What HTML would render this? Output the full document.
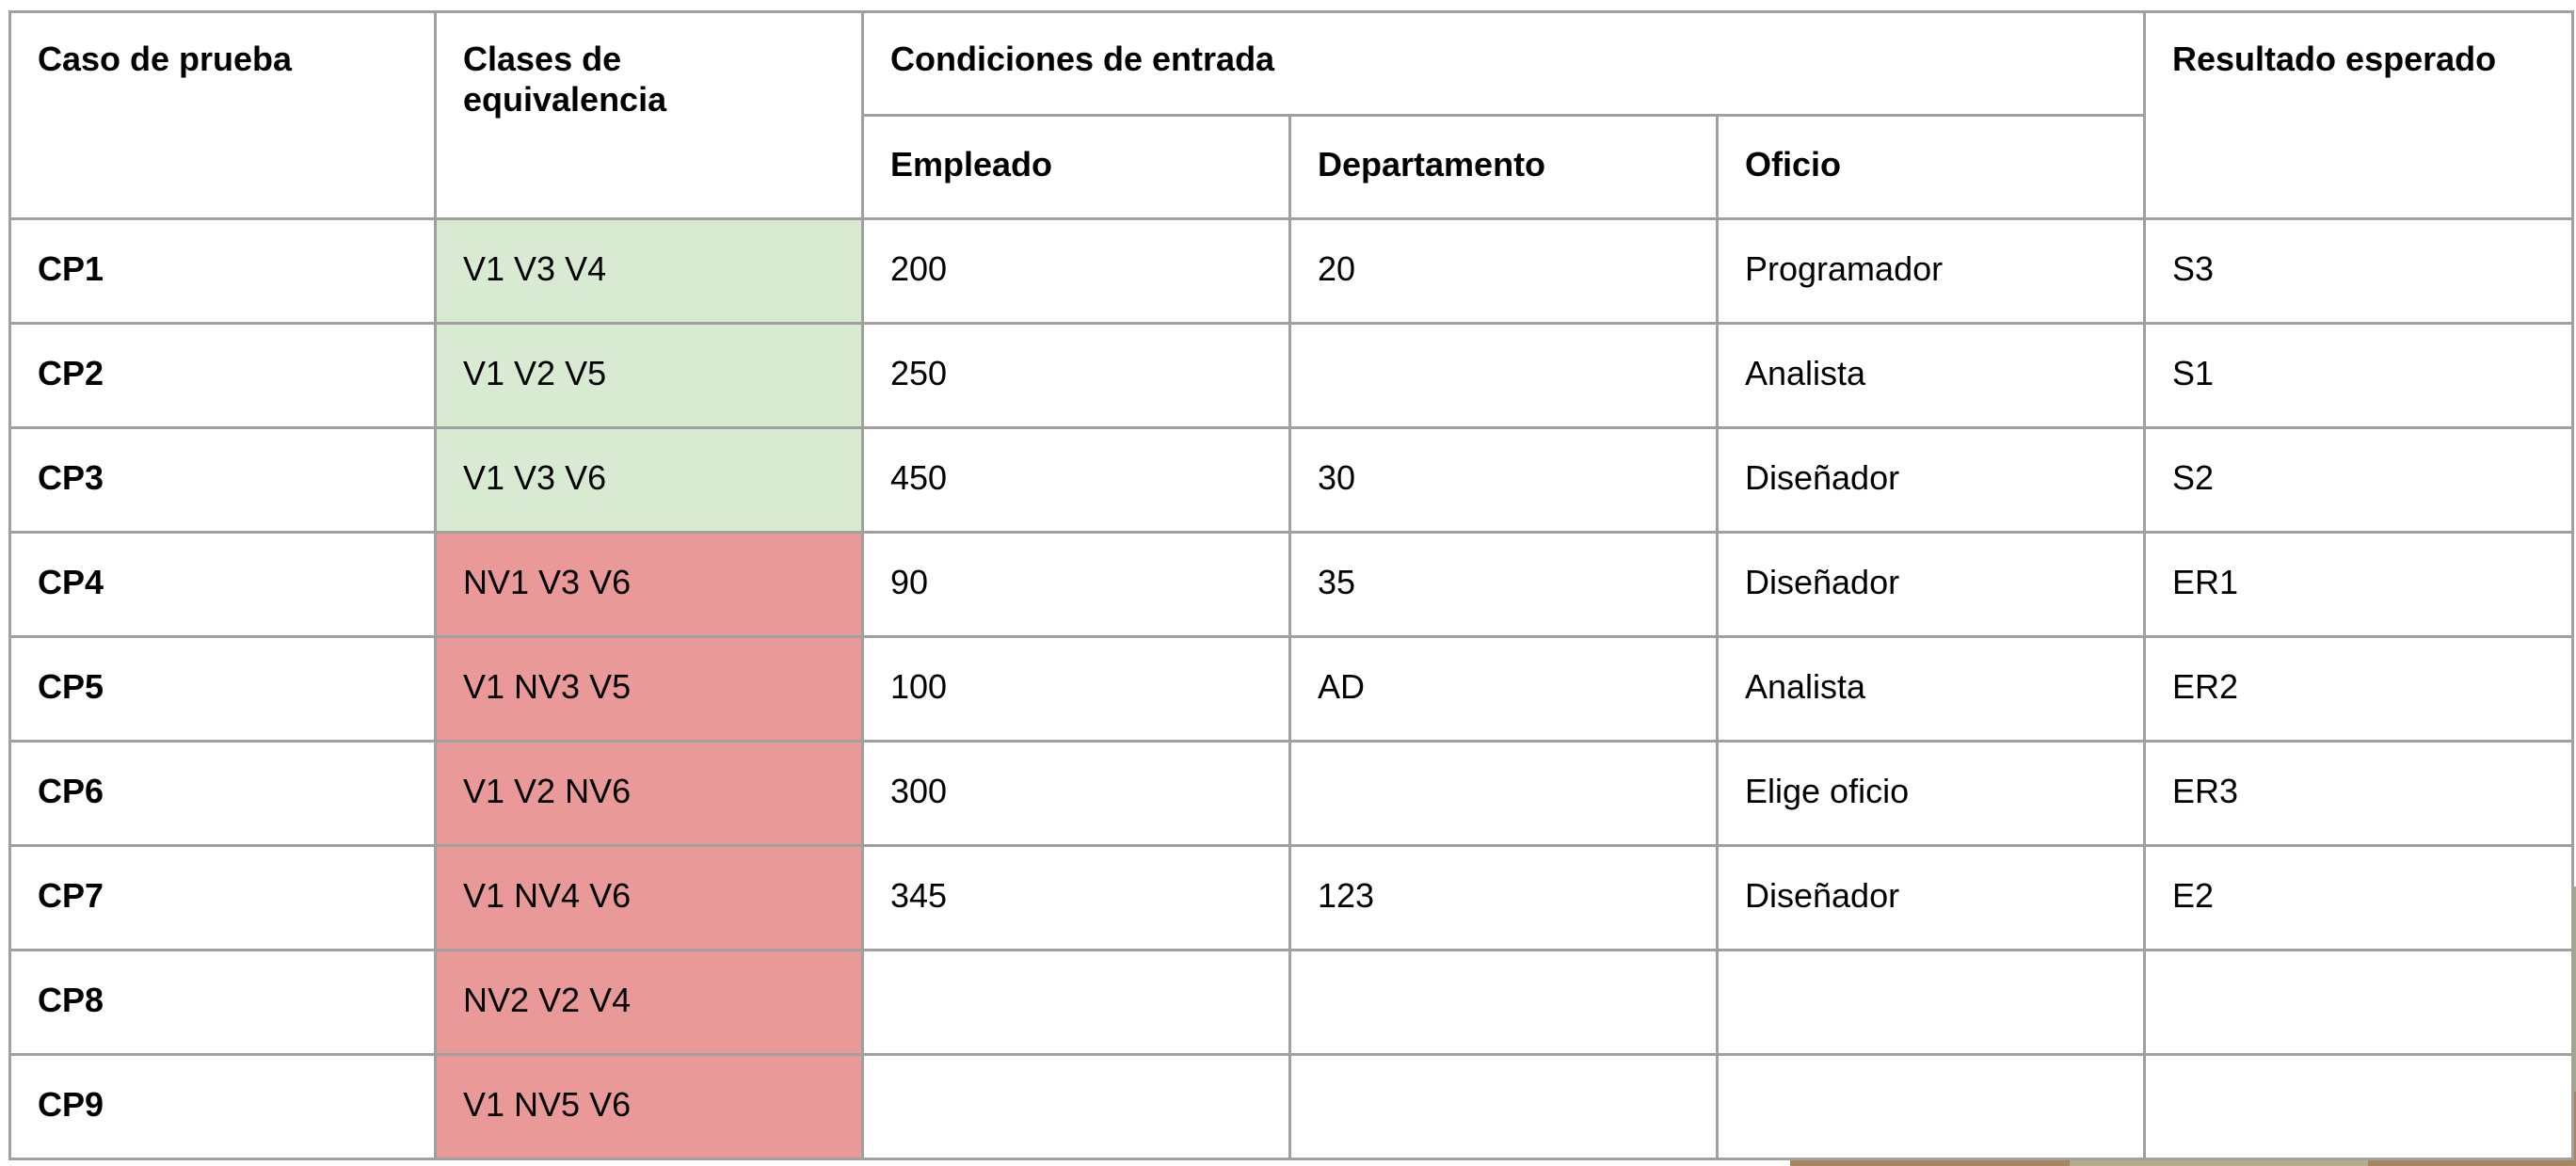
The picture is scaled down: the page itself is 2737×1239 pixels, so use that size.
<!DOCTYPE html>
<html><head><meta charset="utf-8"><style>
html,body{margin:0;padding:0;background:#fff;width:2737px;height:1239px;overflow:hidden;position:relative}
.bg{position:absolute}
table{position:absolute;left:9px;top:11px;border-collapse:collapse;table-layout:fixed;width:2723px;font-family:"Liberation Sans",Arial,sans-serif;font-size:36px;color:#000;background:#fff}
td{border:3px solid #a0a0a0;padding:0 28px 5px 28px;line-height:43px;vertical-align:middle;overflow:hidden;white-space:nowrap}
td.h{vertical-align:top;padding-top:27px;padding-bottom:0}
td.hs{vertical-align:middle;padding-bottom:6px}
b{font-weight:bold}
.g{background:#d9ead3}.r{background:#ea9999}
</style></head><body>
<div class="bg" style="left:2730px;top:942px;width:7px;height:220px;background:#a3ab83"></div>
<div class="bg" style="left:2730px;top:1160px;width:7px;height:79px;background:#a6865f"></div>
<div class="bg" style="left:1902px;top:1229px;width:297px;height:10px;background:#a6865f"></div>
<div class="bg" style="left:2199px;top:1229px;width:317px;height:10px;background:#b5ab8b"></div>
<div class="bg" style="left:2516px;top:1229px;width:221px;height:10px;background:#a6865f"></div>
<table>
<colgroup><col style="width:452px"><col style="width:454px"><col style="width:454px"><col style="width:454px"><col style="width:454px"><col style="width:455px"></colgroup>
<tr style="height:110px"><td class="h" rowspan="2"><b>Caso de prueba</b></td><td class="h" rowspan="2"><b>Clases de<br>equivalencia</b></td><td class="h" colspan="3"><b>Condiciones de entrada</b></td><td class="h" rowspan="2"><b>Resultado esperado</b></td></tr>
<tr style="height:110px"><td class="hs"><b>Empleado</b></td><td class="hs"><b>Departamento</b></td><td class="hs"><b>Oficio</b></td></tr>
<tr style="height:111px"><td><b>CP1</b></td><td class="g">V1 V3 V4</td><td>200</td><td>20</td><td>Programador</td><td>S3</td></tr>
<tr style="height:111px"><td><b>CP2</b></td><td class="g">V1 V2 V5</td><td>250</td><td></td><td>Analista</td><td>S1</td></tr>
<tr style="height:111px"><td><b>CP3</b></td><td class="g">V1 V3 V6</td><td>450</td><td>30</td><td>Diseñador</td><td>S2</td></tr>
<tr style="height:111px"><td><b>CP4</b></td><td class="r">NV1 V3 V6</td><td>90</td><td>35</td><td>Diseñador</td><td>ER1</td></tr>
<tr style="height:111px"><td><b>CP5</b></td><td class="r">V1 NV3 V5</td><td>100</td><td>AD</td><td>Analista</td><td>ER2</td></tr>
<tr style="height:111px"><td><b>CP6</b></td><td class="r">V1 V2 NV6</td><td>300</td><td></td><td>Elige oficio</td><td>ER3</td></tr>
<tr style="height:111px"><td><b>CP7</b></td><td class="r">V1 NV4 V6</td><td>345</td><td>123</td><td>Diseñador</td><td>E2</td></tr>
<tr style="height:111px"><td><b>CP8</b></td><td class="r">NV2 V2 V4</td><td></td><td></td><td></td><td></td></tr>
<tr style="height:111px"><td><b>CP9</b></td><td class="r">V1 NV5 V6</td><td></td><td></td><td></td><td></td></tr>
</table>
</body></html>
